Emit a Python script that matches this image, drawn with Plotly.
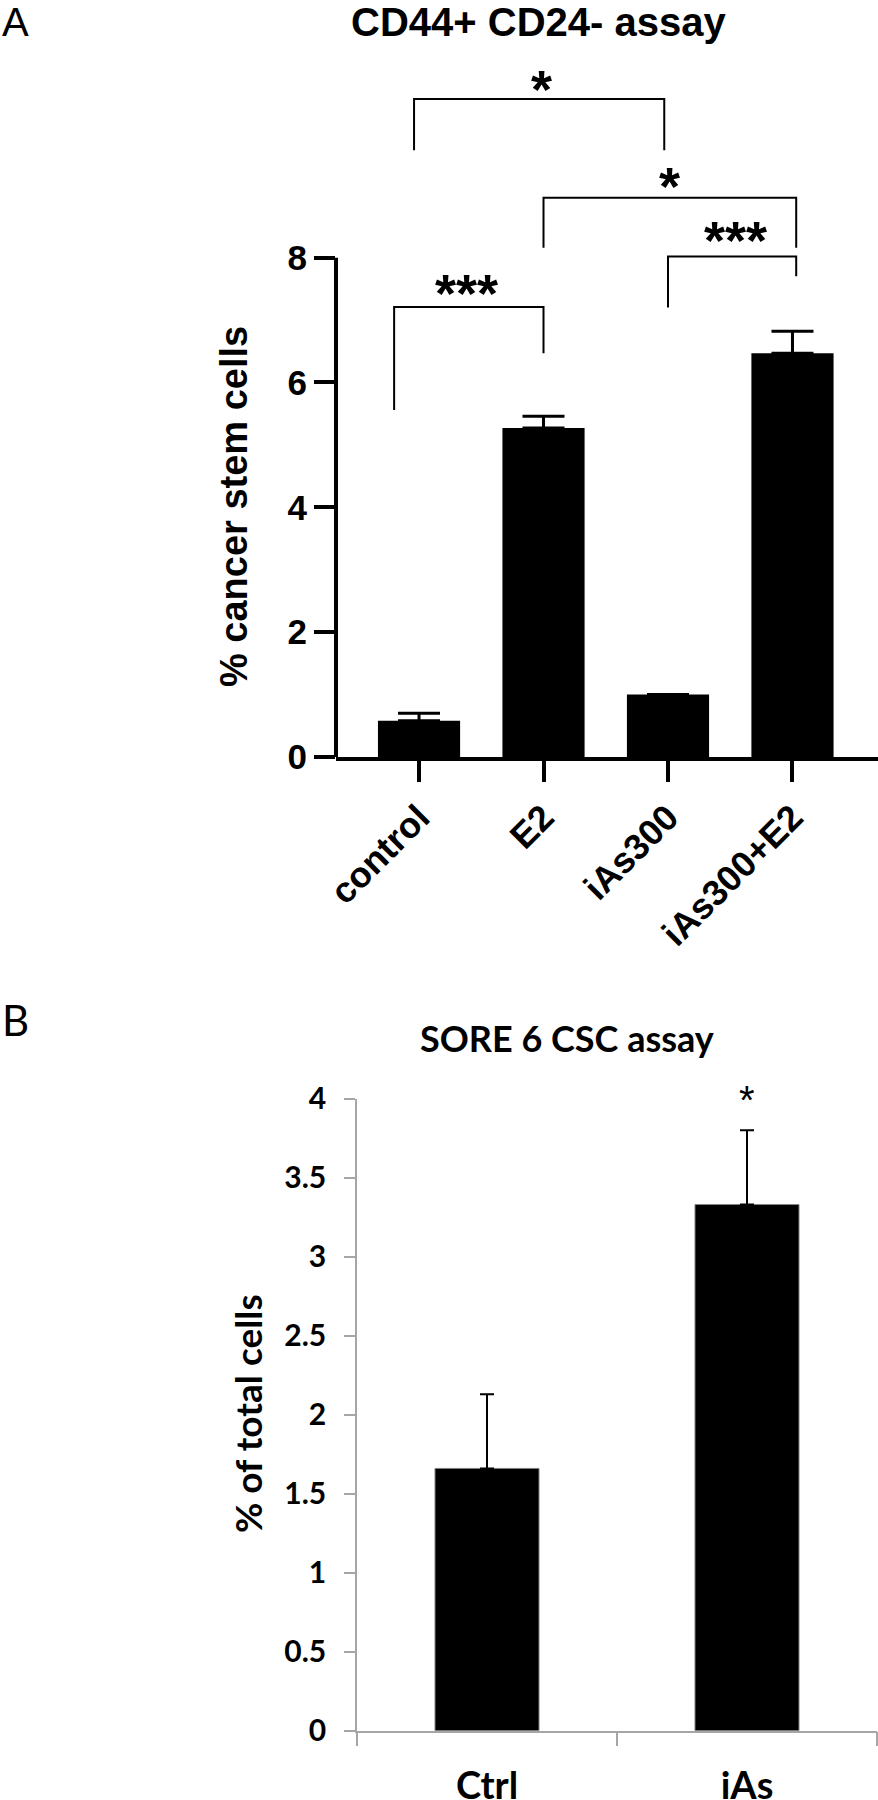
import plotly.graph_objs as go

W, H = 878, 1800

# panel A - CD44+ CD24- flow assay
groups_a = ["control", "E2", "iAs300", "iAs300+E2"]
means_a = [0.58, 5.27, 1.0, 6.47]
sem_a = [0.12, 0.19, None, 0.35]
yticks_a = [0, 2, 4, 6, 8]

# significance comparisons (left group, right group, label)
comparisons = [("control", "iAs300", "*"),
               ("E2", "iAs300+E2", "*"),
               ("iAs300", "iAs300+E2", "***"),
               ("control", "E2", "***")]

# panel B - SORE 6 CSC assay
groups_b = ["Ctrl", "iAs"]
means_b = [1.66, 3.33]
err_b = [0.47, 0.47]
stars_b = ["", "*"]


def px_x(p):
    return p / W


def px_y(p):
    return 1 - p / H


# bracket geometry (in y units of panel A), one row per comparison
brk_shift = [(-0.04, -0.03), (0.0, 0.03), (0.0, 0.03), (-0.2, 0.0)]
brk_top = [10.54, 8.96, 8.02, 7.21]
brk_leg = [(9.72, 9.72), (8.16, 8.16), (7.20, 7.70), (5.56, 6.47)]
lbl_pos = [(0.98, 10.83), (2.01, 9.27), (2.54, 8.41), (0.38, 7.56)]

fig = go.Figure()

fig.add_trace(go.Bar(x=groups_a, y=means_a, width=0.66,
                     marker=dict(color="black", line=dict(width=0)),
                     error_y=dict(type="data", array=sem_a, symmetric=False,
                                  arrayminus=[0] * len(means_a),
                                  color="black", thickness=3, width=21),
                     xaxis="x", yaxis="y"))

fig.add_trace(go.Bar(x=groups_b, y=means_b, width=0.4,
                     marker=dict(color="black", line=dict(width=1, color="#808080")),
                     error_y=dict(type="data", array=err_b, symmetric=False,
                                  arrayminus=[0] * len(means_b),
                                  color="black", thickness=2, width=7),
                     xaxis="x2", yaxis="y2"))

shapes = []
# y axis line of panel A only runs 0..8
shapes.append(dict(type="line", xref="x domain", yref="y", x0=0, x1=0,
                   y0=yticks_a[0], y1=yticks_a[-1], line=dict(color="black", width=4)))

for i, (g1, g2, lab) in enumerate(comparisons):
    xl = groups_a.index(g1) + brk_shift[i][0]
    xr = groups_a.index(g2) + brk_shift[i][1]
    pts = "M {},{} L {},{} L {},{} L {},{}".format(xl, brk_leg[i][0], xl, brk_top[i],
                                                  xr, brk_top[i], xr, brk_leg[i][1])
    shapes.append(dict(type="path", xref="x", yref="y", path=pts,
                       line=dict(color="black", width=2)))

ann = []
arial_b = dict(family="Arial, Liberation Sans", size=36, color="black", weight="bold")
for i, (g1, g2, lab) in enumerate(comparisons):
    ann.append(dict(x=lbl_pos[i][0], y=lbl_pos[i][1], xref="x", yref="y", text=lab,
                    showarrow=False, font=dict(arial_b, size=54),
                    xanchor="center", yanchor="middle", yshift=-8))

ann.append(dict(x=px_x(538), y=px_y(22), xref="paper", yref="paper",
                text="CD44+ CD24- assay", showarrow=False,
                xanchor="center", yanchor="middle", font=dict(arial_b, size=40)))
ann.append(dict(x=px_x(234), y=px_y(507), xref="paper", yref="paper",
                text="% cancer stem cells", textangle=-90, showarrow=False,
                xanchor="center", yanchor="middle", font=dict(arial_b, size=38)))
ann.append(dict(x=px_x(0), y=px_y(22), xref="paper", yref="paper",
                text="A", showarrow=False, xanchor="left", yanchor="middle",
                font=dict(family="Arial, Liberation Sans", size=40, color="black")))

lato_b = dict(family="Lato", color="black", weight="bold")
ann.append(dict(x=px_x(567), y=px_y(1038), xref="paper", yref="paper",
                text="SORE 6 CSC assay", showarrow=False,
                xanchor="center", yanchor="middle", font=dict(lato_b, size=36)))
ann.append(dict(x=px_x(247), y=px_y(1414), xref="paper", yref="paper",
                text="% of total cells", textangle=-90, showarrow=False,
                xanchor="center", yanchor="middle", font=dict(lato_b, size=37)))
ann.append(dict(x=px_x(0), y=px_y(1020), xref="paper", yref="paper",
                text="B", showarrow=False, xanchor="left", yanchor="middle",
                font=dict(family="Lato", size=42, color="black")))
for g, m, e, s in zip(groups_b, means_b, err_b, stars_b):
    if s:
        ann.append(dict(x=g, y=m + e, xref="x2", yref="y2", text=s, showarrow=False,
                        xanchor="center", yanchor="bottom", yshift=6,
                        font=dict(family="Arial, Liberation Sans", size=40, color="black")))

fig.update_layout(
    width=W, height=H, margin=dict(l=0, r=0, t=0, b=0, pad=0),
    paper_bgcolor="white", plot_bgcolor="white", showlegend=False,
    shapes=shapes, annotations=ann,
    xaxis=dict(domain=[px_x(336), 1], anchor="y", type="category", automargin=False,
               range=[-0.667, 3.687], showline=True, linecolor="black", linewidth=4,
               ticks="outside", ticklen=21, tickwidth=4, tickcolor="black",
               tickangle=-45, tickfont=arial_b, showgrid=False),
    yaxis=dict(domain=[px_y(757), px_y(60)], anchor="x", range=[0, 11.166], automargin=False,
               tickvals=yticks_a, showline=False, showgrid=False, zeroline=False,
               ticks="outside", ticklen=21, tickwidth=4, tickcolor="black",
               tickfont=dict(arial_b, size=35)),
    xaxis2=dict(domain=[px_x(357), px_x(877)], anchor="y2", type="category", automargin=False,
                showline=True, linecolor="#a6a6a6", linewidth=1.5,
                ticks="outside", tickson="boundaries", ticklen=14, tickwidth=1.5,
                tickcolor="#a6a6a6", tickfont=dict(lato_b, size=38),
                ticklabelstandoff=21, showgrid=False),
    yaxis2=dict(domain=[px_y(1730.7), px_y(1098.7)], anchor="x2", range=[0, 4], automargin=False,
                dtick=0.5, showline=True, linecolor="#a6a6a6", linewidth=1.5,
                ticks="outside", ticklen=11, tickwidth=1.5, tickcolor="#a6a6a6",
                tickfont=dict(lato_b, size=30), showgrid=False, zeroline=False,
                ticklabelstandoff=12),
)

fig.write_html("out.html", config={"displayModeBar": False},
               post_script="document.body.style.margin='0';")
